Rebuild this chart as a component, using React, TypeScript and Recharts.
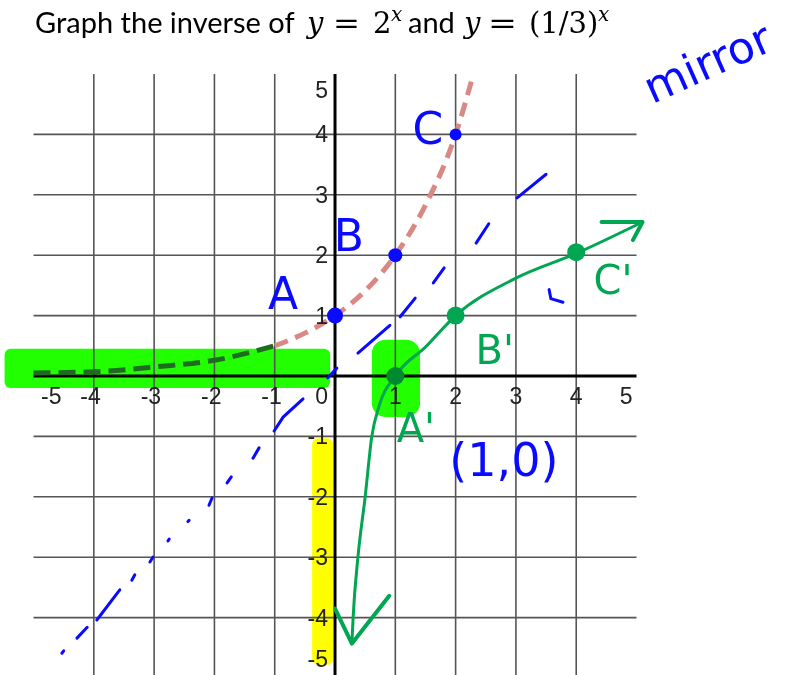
import React from 'react'
import { ComposedChart, Line, Scatter, XAxis, YAxis, ReferenceLine, ReferenceArea } from 'recharts'

const xTickValues = [-5, -4, -3, -2, -1, 0, 1, 2, 3, 4, 5]
const yTickValues = [-5, -4, -3, -2, -1, 1, 2, 3, 4, 5]
const gridValues = [-4, -3, -2, -1, 1, 2, 3, 4]

// y = 2^x, dashed
const expLeft = [
  { x: -5, y: 0.05 }, { x: -4, y: 0.07 }, { x: -3, y: 0.15 }, { x: -2, y: 0.26 }, { x: -1, y: 0.5 },
]
const expRight = [
  { x: -1, y: 0.5 }, { x: -0.5, y: 0.71 }, { x: 0, y: 1 }, { x: 0.5, y: 1.41 }, { x: 1, y: 2 },
  { x: 1.5, y: 2.83 }, { x: 2, y: 4 }, { x: 2.29, y: 4.98 },
]
const expPoints = [{ x: 0, y: 1, r: 8 }, { x: 1, y: 2, r: 7 }, { x: 2, y: 4, r: 6 }]
const expNotes = [
  { x: -0.86, y: 1.37, text: 'A' },
  { x: 0.23, y: 2.33, text: 'B' },
  { x: 1.54, y: 4.1, text: 'C' },
]

// hand-drawn inverse
const inverseCurve = [
  { x: 0.28, y: -4.43 }, { x: 0.3, y: -4 }, { x: 0.38, y: -3 }, { x: 0.5, y: -2 }, { x: 0.61, y: -1 },
  { x: 0.73, y: -0.5 }, { x: 1, y: 0 }, { x: 1.5, y: 0.48 }, { x: 2, y: 1 }, { x: 3, y: 1.62 },
  { x: 4, y: 2.03 }, { x: 5.1, y: 2.55 },
]
const inversePoints = [{ x: 1, y: 0 }, { x: 2, y: 1 }, { x: 4, y: 2.05 }]
const inverseNotes = [
  { x: 1.34, y: -0.86, text: "A'" },
  { x: 2.65, y: 0.43, text: "B'" },
  { x: 4.61, y: 1.59, text: "C'" },
]
const arrowRight = [{ x: 4.42, y: 2.55 }, { x: 5.1, y: 2.55 }, { x: 4.94, y: 2.25 }]
const arrowDown = [{ x: 0, y: -3.85 }, { x: 0.28, y: -4.43 }, { x: 0.9, y: -3.64 }]

// y = x mirror line, drawn as broken strokes
const mirrorStrokes = [
  [{ x: -4.53, y: -4.59 }, { x: -4.5, y: -4.55 }],
  [{ x: -4.28, y: -4.34 }, { x: -4.11, y: -4.16 }],
  [{ x: -3.95, y: -4.04 }, { x: -3.57, y: -3.54 }],
  [{ x: -3.37, y: -3.38 }, { x: -3.32, y: -3.29 }],
  [{ x: -3.07, y: -3.08 }, { x: -3.02, y: -3.0 }],
  [{ x: -2.77, y: -2.73 }, { x: -2.75, y: -2.7 }],
  [{ x: -2.44, y: -2.41 }, { x: -2.42, y: -2.39 }],
  [{ x: -2.09, y: -2.14 }, { x: -2.04, y: -2.02 }],
  [{ x: -1.79, y: -1.77 }, { x: -1.72, y: -1.67 }],
  [{ x: -1.36, y: -1.36 }, { x: -1.26, y: -1.19 }],
  [{ x: -1.01, y: -0.91 }, { x: -0.86, y: -0.68 }, { x: -0.53, y: -0.38 }],
  [{ x: -0.12, y: -0.03 }, { x: 0.03, y: 0.13 }],
  [{ x: 0.38, y: 0.38 }, { x: 0.91, y: 0.84 }],
  [{ x: 1.08, y: 0.98 }, { x: 1.33, y: 1.29 }],
  [{ x: 1.63, y: 1.54 }, { x: 1.81, y: 1.79 }],
  [{ x: 2.34, y: 2.2 }, { x: 2.55, y: 2.52 }],
  [{ x: 3.02, y: 2.95 }, { x: 3.5, y: 3.34 }],
  [{ x: 3.55, y: 1.43 }, { x: 3.58, y: 1.28 }, { x: 3.78, y: 1.22 }],
]
const pointNote = [{ x: 2.8, y: -1.39, text: '(1,0)' }]
const mirrorNote = [{ x: 5.26, y: 4.5, text: 'mirror' }]

const limeBands = [
  { x1: -5.48, x2: -0.08, y1: -0.2, y2: 0.45 },
  { x1: 0.61, x2: 1.41, y1: -0.68, y2: 0.6 },
]
const yellowBands = [{ x1: -0.38, x2: -0.03, y1: -4.78, y2: -1.03 }]

const BLUE = '#0a0aff'
const GREEN = '#00a651'
const PINK = '#d98884'
const GRID = '#555'
const HAND = '"DejaVu Sans", sans-serif'
const TICK = '"Liberation Sans", Arial, sans-serif'
const MATH = "'DejaVu Serif', serif"

const xTickData = xTickValues.map((v) => ({ x: v, y: 0, v }))
const yTickData = yTickValues.map((v) => ({ x: 0, y: v, v }))

function XTickLabel(p: any) {
  const v = p.payload.v
  let anchor = 'middle'
  let dx = 0
  if (v < 0) { anchor = 'end'; dx = v === -5 ? 28 : 7 }
  if (v === 0) { anchor = 'end'; dx = -7 }
  if (v === 5) { anchor = 'end'; dx = -4 }
  return (
    <text x={p.cx + dx} y={p.cy + 28} textAnchor={anchor} fontFamily={TICK} fontSize={23} fill="#222">
      {String(v)}
    </text>
  )
}

function YTickLabel(p: any) {
  const v = p.payload.v
  let dy = 8
  if (v === 5) dy = 24
  if (v === -5) dy = -11
  return (
    <text x={p.cx - 7} y={p.cy + dy} textAnchor="end" fontFamily={TICK} fontSize={23} fill="#222">
      {String(v)}
    </text>
  )
}

const note = (color: string, size: number, rotate = 0) => (p: any) => (
  <text
    x={p.cx}
    y={p.cy}
    textAnchor={rotate ? 'start' : 'middle'}
    dominantBaseline={rotate ? 'auto' : 'central'}
    fontFamily={HAND}
    fontSize={size}
    fill={color}
    transform={rotate ? `rotate(${rotate} ${p.cx} ${p.cy})` : undefined}
  >
    {p.payload.text}
  </text>
)

const band = (color: string, radius: number) => (p: any) => (
  <rect
    x={p.x}
    y={p.y}
    width={p.width}
    height={p.height}
    rx={radius}
    fill={color}
    style={{ mixBlendMode: 'multiply' }}
  />
)

const lineProps = { dot: false, activeDot: false, isAnimationActive: false }

export default function App() {
  return (
    <div style={{ position: 'absolute', left: 0, top: 0, width: 786, height: 675, overflow: 'hidden', background: '#fff' }}>
      <ComposedChart width={786} height={678} margin={{ top: 0, right: 0, bottom: 0, left: 0 }}>
        <XAxis type="number" dataKey="x" domain={[-5.556, 7.479]} allowDataOverflow hide />
        <YAxis type="number" dataKey="y" domain={[-5, 6.225]} allowDataOverflow hide />

        {gridValues.map((k) => (
          <ReferenceLine key={'h' + k} segment={[{ x: -5, y: k }, { x: 5, y: k }]} stroke={GRID} strokeWidth={1.6} />
        ))}
        {gridValues.map((k) => (
          <ReferenceLine key={'v' + k} segment={[{ x: k, y: -5 }, { x: k, y: 5 }]} stroke={GRID} strokeWidth={1.6} />
        ))}
        <ReferenceLine segment={[{ x: -5, y: 0 }, { x: 5, y: 0 }]} stroke="#000" strokeWidth={3} />
        <ReferenceLine segment={[{ x: 0, y: -5 }, { x: 0, y: 5 }]} stroke="#000" strokeWidth={3} />

        <Scatter data={xTickData} shape={XTickLabel} isAnimationActive={false} />
        <Scatter data={yTickData} shape={YTickLabel} isAnimationActive={false} />

        <Line data={expLeft} dataKey="y" type="monotone" stroke="#1f6b1f" strokeWidth={5} strokeDasharray="17 8" {...lineProps} />
        <Line data={expRight} dataKey="y" type="monotone" stroke={PINK} strokeWidth={5} strokeDasharray="14 8" {...lineProps} />

        {mirrorStrokes.map((s, i) => (
          <Line key={'m' + i} data={s} dataKey="y" type="linear" stroke={BLUE} strokeWidth={3} strokeLinecap="round" {...lineProps} />
        ))}

        <Line data={inverseCurve} dataKey="y" type="monotone" stroke={GREEN} strokeWidth={3} {...lineProps} />
        <Line data={arrowRight} dataKey="y" type="linear" stroke={GREEN} strokeWidth={4} strokeLinecap="round" strokeLinejoin="round" {...lineProps} />
        <Line data={arrowDown} dataKey="y" type="linear" stroke={GREEN} strokeWidth={4} strokeLinecap="round" strokeLinejoin="round" {...lineProps} />

        <Scatter data={expPoints} isAnimationActive={false} shape={(p: any) => <circle cx={p.cx} cy={p.cy} r={p.payload.r} fill={BLUE} />} />
        <Scatter data={inversePoints} isAnimationActive={false} shape={(p: any) => <circle cx={p.cx} cy={p.cy} r={9} fill={p.payload.y === 0 ? '#008a30' : GREEN} />} />

        <Scatter data={expNotes} shape={note(BLUE, 44)} isAnimationActive={false} />
        <Scatter data={inverseNotes} shape={note(GREEN, 40)} isAnimationActive={false} />
        <Scatter data={pointNote} shape={note(BLUE, 46)} isAnimationActive={false} />
        <Scatter data={mirrorNote} shape={note(BLUE, 44, -24)} isAnimationActive={false} />

        {limeBands.map((b, i) => (
          <ReferenceArea key={'l' + i} {...b} shape={band('#22ff00', i === 0 ? 6 : 14)} />
        ))}
        {yellowBands.map((b, i) => (
          <ReferenceArea key={'y' + i} {...b} shape={band('#ffff00', 6)} />
        ))}
      </ComposedChart>

      <svg width={786} height={45} style={{ position: 'absolute', left: 0, top: 0, pointerEvents: 'none' }}>
        <text y={33} fontSize={29} fill="#000">
          <tspan x={35} fontFamily="Lato, sans-serif">Graph the inverse of</tspan>
          <tspan x={307} fontFamily={MATH} fontStyle="italic">y</tspan>
          <tspan x={333} fontFamily={MATH} textLength={27} lengthAdjust="spacingAndGlyphs">=</tspan>
          <tspan x={373} fontFamily={MATH}>2</tspan>
          <tspan x={391} dy={-12} fontSize={20} fontFamily={MATH} fontStyle="italic">x</tspan>
          <tspan x={408} dy={12} fontFamily="Lato, sans-serif">and</tspan>
          <tspan x={464} fontFamily={MATH} fontStyle="italic">y</tspan>
          <tspan x={488} fontFamily={MATH} textLength={29} lengthAdjust="spacingAndGlyphs">=</tspan>
          <tspan x={529} fontFamily={MATH}>(1/3)</tspan>
          <tspan x={598} dy={-12} fontSize={20} fontFamily={MATH} fontStyle="italic">x</tspan>
        </text>
      </svg>
    </div>
  )
}
